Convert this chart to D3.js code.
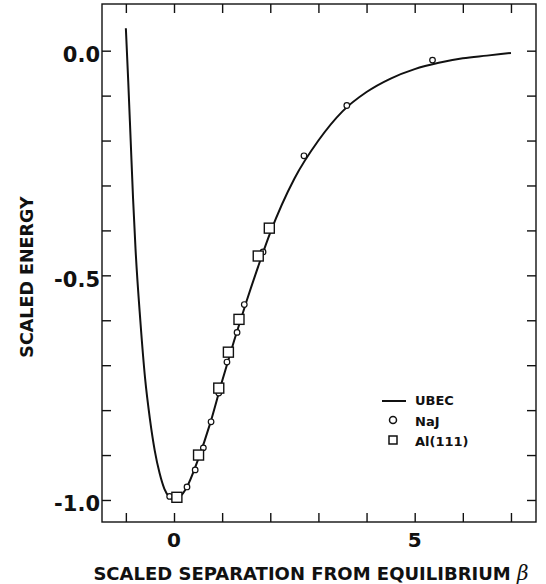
<!DOCTYPE html>
<html>
<head>
<meta charset="utf-8">
<script src="https://cdn.jsdelivr.net/npm/d3@7"></script>
<style>
  html, body { margin: 0; padding: 0; background: #fff; }
  svg { display: block; }
  text { font-family: "DejaVu Sans", "Liberation Sans", Arial, sans-serif; font-weight: bold; fill: #111; }
</style>
</head>
<body>
<svg id="chart" width="546" height="584"></svg>
<script>
// ---- Data ----
// UBEC curve: scaled separation beta vs scaled energy
const ubecBeta   = [-1.0, -0.95, -0.9, -0.85, -0.8, -0.7, -0.6, -0.5, -0.4, -0.3, -0.2, -0.1, 0.0,
                    0.25, 0.5, 0.75, 1.0, 1.25, 1.5, 1.75, 2.0, 2.5, 3.0, 3.5, 4.0, 4.5, 5.0, 5.5, 6.0, 6.5, 7.0];
const ubecEnergy = [0.05, -0.07, -0.2, -0.33, -0.44, -0.60, -0.73, -0.82, -0.89, -0.94, -0.975, -0.993, -1.0,
                    -0.975, -0.91, -0.83, -0.735, -0.645, -0.56, -0.48, -0.405, -0.285, -0.20, -0.135, -0.092, -0.062, -0.041, -0.027, -0.017, -0.011, -0.005];

// NaJ (open circles)
const najBeta   = [-0.09, 0.27, 0.44, 0.61, 0.77, 0.93, 1.10, 1.31, 1.46, 1.85, 2.70, 3.59, 5.37];
const najEnergy = [-0.992, -0.971, -0.933, -0.884, -0.826, -0.762, -0.693, -0.627, -0.565, -0.448, -0.234, -0.122, -0.021];

// Al(111) (open squares)
const alBeta   = [0.06, 0.51, 0.93, 1.13, 1.35, 1.75, 1.98];
const alEnergy = [-0.994, -0.900, -0.751, -0.671, -0.598, -0.457, -0.395];

// Axis ticks and labels
const xTicks = [-1, 0, 1, 2, 3, 4, 5, 6, 7];
const xLabelTicks = [0, 5];
const yTicks = [-1.0, -0.9, -0.8, -0.7, -0.6, -0.5, -0.4, -0.3, -0.2, -0.1, 0.0];
const yLabelTicks = [-1.0, -0.5, 0.0];
const yLabelText = ["-1.0", "-0.5", "0.0"];

const legendItems = ["UBEC", "NaJ", "Al(111)"];

// ---- Layout ----
const svg = d3.select("#chart");
const pL = 102, pR = 536, pT = 4, pB = 522;
const x = d3.scaleLinear().domain([-1.4957, 7.520]).range([pL, pR]);
const y = d3.scaleLinear().domain([-1.049, 0.1039]).range([pB, pT]);
const tickLen = 9;
const ink = "#111";

// frame
svg.append("rect")
  .attr("x", pL).attr("y", pT)
  .attr("width", pR - pL).attr("height", pB - pT)
  .attr("fill", "none").attr("stroke", ink).attr("stroke-width", 1.4);

// axes (inward ticks)
const gB = svg.append("g").attr("transform", `translate(0,${pB})`)
  .call(d3.axisBottom(x).tickValues(xTicks).tickSizeInner(-tickLen).tickSizeOuter(0).tickFormat(""));
const gT = svg.append("g").attr("transform", `translate(0,${pT})`)
  .call(d3.axisTop(x).tickValues(xTicks).tickSizeInner(-tickLen).tickSizeOuter(0).tickFormat(""));
const gL = svg.append("g").attr("transform", `translate(${pL},0)`)
  .call(d3.axisLeft(y).tickValues(yTicks).tickSizeInner(-tickLen).tickSizeOuter(0).tickFormat(""));
const gR = svg.append("g").attr("transform", `translate(${pR},0)`)
  .call(d3.axisRight(y).tickValues(yTicks).tickSizeInner(-tickLen).tickSizeOuter(0).tickFormat(""));
[gB, gT, gL, gR].forEach(g => {
  g.select(".domain").remove();
  g.selectAll(".tick line").attr("stroke", ink).attr("stroke-width", 1.4);
});

// tick labels
svg.append("g").selectAll("text").data(yLabelTicks).join("text")
  .attr("x", pL - 2).attr("y", d => y(d) + 11.5)
  .attr("text-anchor", "end").attr("font-size", 21)
  .text((d, i) => yLabelText[i]);
svg.append("g").selectAll("text").data(xLabelTicks).join("text")
  .attr("x", d => x(d)).attr("y", 547)
  .attr("text-anchor", "middle").attr("font-size", 20)
  .text(d => d);

// axis titles
const xt = svg.append("text")
  .attr("x", 311).attr("y", 580)
  .attr("text-anchor", "middle").attr("font-size", 18);
xt.append("tspan").text("SCALED SEPARATION FROM EQUILIBRIUM ");
xt.append("tspan").attr("font-style", "italic").attr("font-weight", "normal")
  .attr("font-family", "'DejaVu Serif', serif").attr("font-size", 20).text("β");

svg.append("text")
  .attr("transform", "translate(33,277) rotate(-90)")
  .attr("text-anchor", "middle").attr("font-size", 17.5)
  .text("SCALED ENERGY");

// UBEC curve
const ubec = ubecBeta.map((b, i) => [b, ubecEnergy[i]]);
svg.append("path")
  .datum(ubec)
  .attr("fill", "none").attr("stroke", ink).attr("stroke-width", 2)
  .attr("d", d3.line().x(d => x(d[0])).y(d => y(d[1])).curve(d3.curveMonotoneX));

// NaJ circles
const naj = najBeta.map((b, i) => [b, najEnergy[i]]);
svg.append("g").selectAll("circle").data(naj).join("circle")
  .attr("cx", d => x(d[0])).attr("cy", d => y(d[1])).attr("r", 2.8)
  .attr("fill", "#fff").attr("stroke", ink).attr("stroke-width", 1.2);

// Al(111) squares
const sq = 10;
const al = alBeta.map((b, i) => [b, alEnergy[i]]);
svg.append("g").selectAll("rect").data(al).join("rect")
  .attr("x", d => x(d[0]) - sq / 2).attr("y", d => y(d[1]) - sq / 2)
  .attr("width", sq).attr("height", sq)
  .attr("fill", "#fff").attr("stroke", ink).attr("stroke-width", 1.4);

// legend
const lg = svg.append("g");
lg.append("line").attr("x1", 382).attr("x2", 406).attr("y1", 401).attr("y2", 401)
  .attr("stroke", ink).attr("stroke-width", 2);
lg.append("circle").attr("cx", 393).attr("cy", 420).attr("r", 3.5)
  .attr("fill", "#fff").attr("stroke", ink).attr("stroke-width", 1.5);
lg.append("rect").attr("x", 389).attr("y", 436).attr("width", 8).attr("height", 8)
  .attr("fill", "#fff").attr("stroke", ink).attr("stroke-width", 1.5);
lg.selectAll("text").data(legendItems).join("text")
  .attr("x", 415).attr("y", (d, i) => 405 + i * 20.5)
  .attr("font-size", 13)
  .text(d => d);
</script>
</body>
</html>
